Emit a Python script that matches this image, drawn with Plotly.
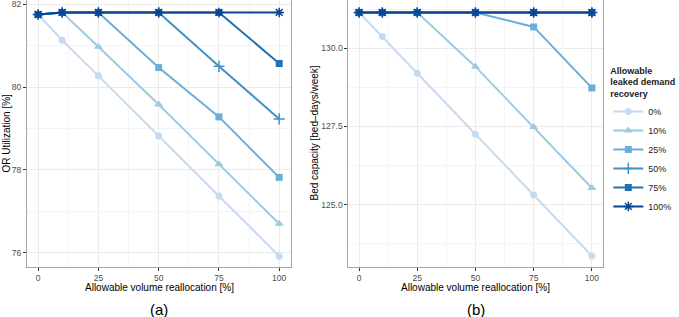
import plotly.graph_objects as go

# ---- data ----
realloc = [0, 10, 25, 50, 75, 100]
recovery_labels = ["0%", "10%", "25%", "50%", "75%", "100%"]

or_util_0 = [81.75, 81.13, 80.27, 78.82, 77.37, 75.92]
or_util_10 = [81.75, 81.80, 80.97, 79.58, 78.14, 76.70]
or_util_25 = [81.75, 81.80, 81.80, 80.47, 79.28, 77.82]
or_util_50 = [81.75, 81.80, 81.80, 81.80, 80.50, 79.23]
or_util_75 = [81.75, 81.80, 81.80, 81.80, 81.80, 80.57]
or_util_100 = [81.75, 81.80, 81.80, 81.80, 81.80, 81.80]

bed_0 = [131.14, 130.37, 129.20, 127.25, 125.31, 123.36]
bed_10 = [131.14, 131.14, 131.14, 129.41, 127.48, 125.53]
bed_25 = [131.14, 131.14, 131.14, 131.14, 130.68, 128.73]
bed_50 = [131.14, 131.14, 131.14, 131.14, 131.14, 131.14]
bed_75 = [131.14, 131.14, 131.14, 131.14, 131.14, 131.14]
bed_100 = [131.14, 131.14, 131.14, 131.14, 131.14, 131.14]

or_series = [or_util_0, or_util_10, or_util_25, or_util_50, or_util_75, or_util_100]
bed_series = [bed_0, bed_10, bed_25, bed_50, bed_75, bed_100]

# ---- styles ----
colors = ["#C6DBEF", "#9ECAE1", "#6BAED6", "#4292C6", "#2171B5", "#084594"]
symbols = ["circle", "triangle-up", "square", "cross-thin-open", "square-x", "asterisk-open"]
sizes = [7, 8, 7, 8, 7, 8]

fig = go.Figure()
for i, lab in enumerate(recovery_labels):
    c = colors[i]
    mk = dict(symbol=symbols[i], size=sizes[i], color=c,
              line=dict(color=c, width=1.5 if "open" in symbols[i] else 0))
    fig.add_trace(go.Scatter(x=realloc, y=or_series[i], mode="lines+markers", name=lab,
                             line=dict(color=c, width=2), marker=mk, legendgroup=lab,
                             showlegend=True, xaxis="x", yaxis="y"))
    fig.add_trace(go.Scatter(x=realloc, y=bed_series[i], mode="lines+markers", name=lab,
                             line=dict(color=c, width=2), marker=mk, legendgroup=lab,
                             showlegend=False, xaxis="x2", yaxis="y2"))

grid = "#EBEBEB"
minor_grid = "#F4F4F4"
border = "#A6A6A6"
tickfont = dict(family="Liberation Sans, Arial, sans-serif", size=8.5, color="#4D4D4D")

L_DOM = [0.0398, 0.4286]
R_DOM = [0.513, 0.8885]
Y_DOM = [0.158, 1.0]


def xax(domain, anchor):
    return dict(domain=domain, anchor=anchor, range=[-4.6, 104.9], tickvals=[0, 25, 50, 75, 100],
                showgrid=True, gridcolor=grid, gridwidth=1, zeroline=False, automargin=False,
                ticklabeloverflow="allow",
                minor=dict(dtick=12.5, tick0=0, showgrid=True, gridcolor=minor_grid, gridwidth=1, ticks=""),
                showline=True, linecolor=border, linewidth=1, mirror=True,
                ticks="outside", ticklen=3, tickcolor="#333333", tickwidth=1, tickfont=tickfont)


def yax(anchor, rng, tv, tt, mdt):
    return dict(domain=Y_DOM, anchor=anchor, range=rng, tickvals=tv, ticktext=tt,
                showgrid=True, gridcolor=grid, zeroline=False, automargin=False,
                ticklabeloverflow="allow",
                minor=dict(dtick=mdt, tick0=0, showgrid=True, gridcolor=minor_grid, ticks=""),
                showline=True, linecolor=border, linewidth=1, mirror=True,
                ticks="outside", ticklen=3, tickcolor="#333333", tickfont=tickfont)


fig.update_layout(
    width=679, height=317,
    margin=dict(l=0, r=0, t=0, b=0),
    paper_bgcolor="white", plot_bgcolor="white",
    font=dict(family="Liberation Sans, Arial, sans-serif", size=10, color="black"),
    xaxis=xax(L_DOM, "y"),
    xaxis2=xax(R_DOM, "y2"),
    yaxis=yax("x", [75.66, 82.1], [76, 78, 80, 82], ["76", "78", "80", "82"], 1),
    yaxis2=yax("x2", [123.01, 131.54], [125, 127.5, 130], ["125.0", "127.5", "130.0"], 1.25),
    legend=dict(x=0.999, y=0.805, xanchor="right", yanchor="top",
                title=dict(text="<b>Allowable<br>leaked demand<br>recovery</b>", font=dict(size=9)),
                font=dict(size=9, color="#222222"), tracegroupgap=0, itemwidth=30,
                bgcolor="rgba(0,0,0,0)", borderwidth=0),
    showlegend=True,
)

ann = [
    dict(text="Allowable volume reallocation [%]", x=sum(L_DOM) / 2, y=1 - 287 / 317, yanchor="middle"),
    dict(text="Allowable volume reallocation [%]", x=sum(R_DOM) / 2, y=1 - 287 / 317, yanchor="middle"),
    dict(text="(a)", x=sum(L_DOM) / 2, y=1 - 309 / 317, yanchor="middle", font=dict(size=15)),
    dict(text="(b)", x=sum(R_DOM) / 2, y=1 - 309 / 317, yanchor="middle", font=dict(size=15)),
    dict(text="OR Utilization [%]", x=6 / 679, y=1 - 133.5 / 317, textangle=-90, yanchor="middle"),
    dict(text="Bed capacity [bed\u2013days/week]", x=314 / 679, y=1 - 133.5 / 317, textangle=-90,
         yanchor="middle"),
]
for a in ann:
    a.update(xref="paper", yref="paper", showarrow=False, xanchor="center")
    a.setdefault("font", dict(size=10))
fig.update_layout(annotations=ann)

fig.write_html("out.html", config={"displayModeBar": False},
               post_script="document.body.style.margin='0';")
